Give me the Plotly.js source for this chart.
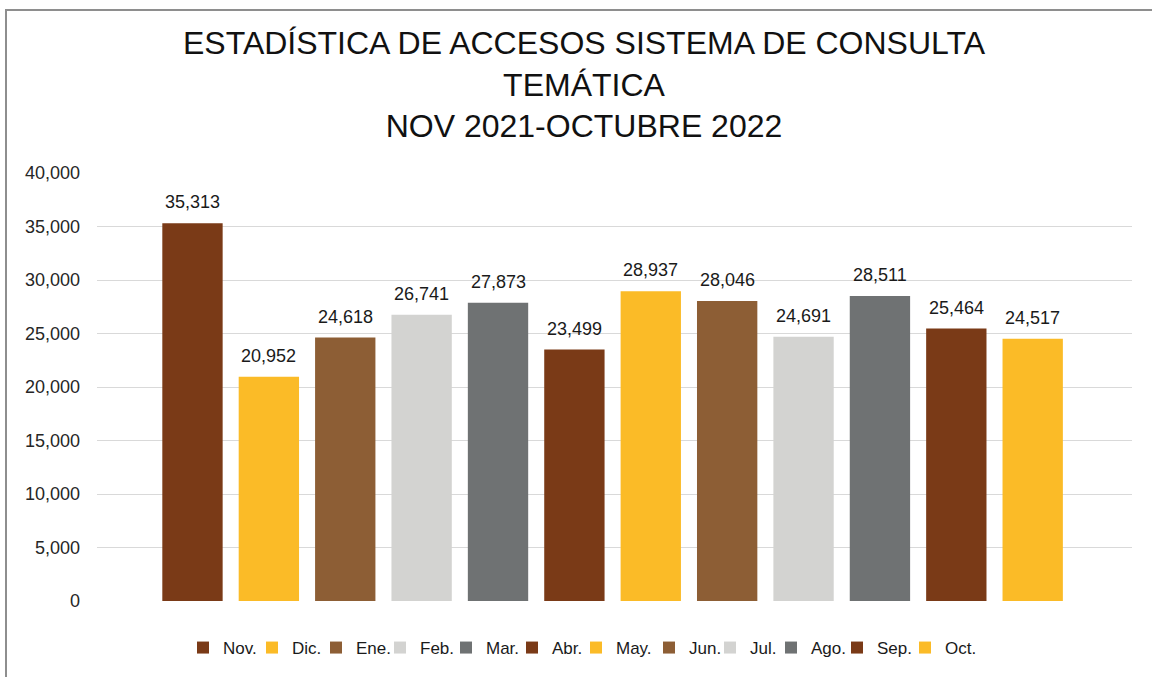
<!DOCTYPE html>
<html>
<head>
<meta charset="utf-8">
<script src="https://cdn.plot.ly/plotly-3.0.1.min.js"></script>
<style>
  html, body { margin: 0; padding: 0; background: #ffffff; overflow: hidden; }
  #chart { width: 1152px; height: 677px; }
  #frame { position: absolute; left: 5px; top: 9px; width: 1200px; height: 720px;
           border-left: 2px solid #8e8e8e; border-top: 2px solid #8e8e8e;
           pointer-events: none; box-sizing: border-box; }
</style>
</head>
<body>
<div id="chart"></div>
<div id="frame"></div>
<script>
// ---- data ----
const months = ["Nov.", "Dic.", "Ene.", "Feb.", "Mar.", "Abr.", "May.", "Jun.", "Jul.", "Ago.", "Sep.", "Oct."];
const accesses = [35313, 20952, 24618, 26741, 27873, 23499, 28937, 28046, 24691, 28511, 25464, 24517];
const yTicks = [0, 5000, 10000, 15000, 20000, 25000, 30000, 35000, 40000];
const yTickLabels = ["0", "5,000", "10,000", "15,000", "20,000", "25,000", "30,000", "35,000", "40,000"];
const titleLines = ["ESTADÍSTICA DE ACCESOS SISTEMA DE CONSULTA", "TEMÁTICA", "NOV 2021-OCTUBRE 2022"];

// ---- styles / layout constants ----
const DARK_BROWN = "#7a3a17", YELLOW = "#fbbb27", MID_BROWN = "#8d5e35", LIGHT_GRAY = "#d3d3d1", DARK_GRAY = "#6f7273";
const colors = [DARK_BROWN, YELLOW, MID_BROWN, LIGHT_GRAY, DARK_GRAY, DARK_BROWN, YELLOW, MID_BROWN, LIGHT_GRAY, DARK_GRAY, DARK_BROWN, YELLOW];
const FONT = "Liberation Sans, Arial, sans-serif";
// pixel left edge of each legend entry's swatch (layout only)
const legendSwatchPx = [203, 272, 336, 400, 466, 532, 596, 669, 730, 791, 857, 925];
const W = 1152, H = 677;

const fmt = v => v.toLocaleString("en-US");
const legendId = i => (i === 0 ? "legend" : "legend" + (i + 1));

const traces = months.map((m, i) => ({
  type: "bar",
  name: m,
  x: [m],
  y: [accesses[i]],
  marker: { color: colors[i] },
  legend: legendId(i),
  hoverinfo: "x+y"
}));

const annotations = months.map((m, i) => ({
  x: m, y: accesses[i], xref: "x", yref: "y",
  text: fmt(accesses[i]),
  showarrow: false, yanchor: "bottom", yshift: 9,
  font: { family: FONT, size: 18, color: "#1a1a1a" }
}));

const layout = {
  width: W, height: H,
  paper_bgcolor: "#ffffff", plot_bgcolor: "#ffffff",
  margin: { l: 97, r: 20, t: 173, b: 76 },
  title: {
    text: titleLines.join("<br>"),
    font: { family: FONT, size: 32, color: "#111111" },
    x: 584 / W, xref: "container", xanchor: "center",
    y: 1 - 54 / H, yref: "container", yanchor: "middle"
  },
  barmode: "overlay",
  bargap: 0.21,
  xaxis: {
    type: "category", categoryorder: "array", categoryarray: months,
    range: [-1.25, 12.3], showticklabels: false, showgrid: false, zeroline: false,
    showline: false, ticks: "", fixedrange: true
  },
  yaxis: {
    range: [0, 40000], tickvals: yTicks, ticktext: yTickLabels,
    showgrid: true, gridcolor: "#d9d9d9", gridwidth: 1, zeroline: false, showline: false,
    ticks: "", ticklabelstandoff: 16,
    tickfont: { family: FONT, size: 18, color: "#262626" }, fixedrange: true
  },
  showlegend: true,
  annotations: annotations
};

months.forEach((m, i) => {
  layout[legendId(i)] = {
    orientation: "h",
    x: (legendSwatchPx[i] - 20) / W, xref: "container", xanchor: "left",
    y: 1 - 648 / H, yref: "container", yanchor: "middle",
    font: { family: FONT, size: 17, color: "#1a1a1a" },
    bgcolor: "rgba(0,0,0,0)", borderwidth: 0, itemwidth: 30
  };
});

Plotly.newPlot("chart", traces, layout, { displayModeBar: false, staticPlot: true });
</script>
</body>
</html>
